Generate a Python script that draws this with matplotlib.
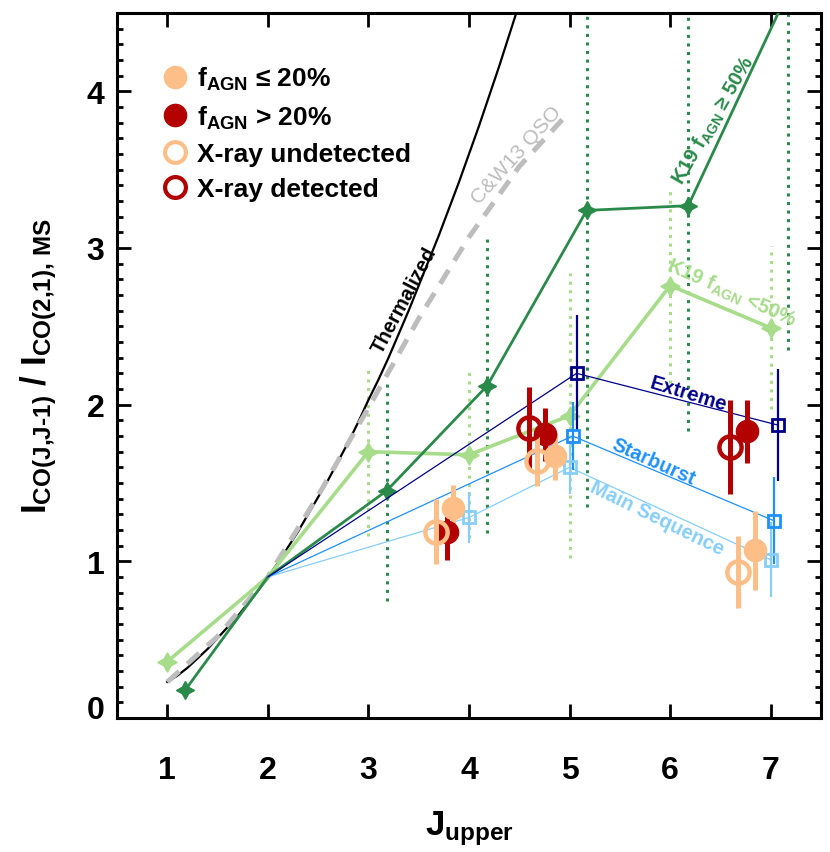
import matplotlib
matplotlib.use('Agg')
import matplotlib.pyplot as plt
from matplotlib.lines import Line2D
from matplotlib.ticker import MultipleLocator, FixedLocator

plt.rcParams['font.family'] = ['Liberation Sans', 'DejaVu Sans']
plt.rcParams['font.weight'] = 'bold'
plt.rcParams['axes.labelweight'] = 'bold'
plt.rcParams['mathtext.fontset'] = 'custom'
plt.rcParams['mathtext.rm'] = 'Liberation Sans:bold'
plt.rcParams['mathtext.bf'] = 'Liberation Sans:bold'
plt.rcParams['mathtext.it'] = 'Liberation Sans:bold'
plt.rcParams['mathtext.default'] = 'bf'

# ---------------- data ----------------
therm_j = [1.0, 1.1, 1.2, 1.3, 1.4, 1.5, 1.6, 1.7, 1.8, 1.9, 2.0, 2.1, 2.2, 2.3, 2.4, 2.5,
           2.6, 2.7, 2.8, 2.9, 3.0, 3.1, 3.2, 3.3, 3.4, 3.5, 3.6, 3.7, 3.8, 3.9, 4.0,
           4.1, 4.2, 4.3, 4.4, 4.5]
therm_r = [0.23, 0.27, 0.32, 0.38, 0.44, 0.51, 0.58, 0.65, 0.73, 0.81, 0.90, 0.99, 1.09,
           1.19, 1.30, 1.41, 1.52, 1.64, 1.76, 1.89, 2.03, 2.16, 2.30, 2.45, 2.60, 2.76,
           2.92, 3.08, 3.25, 3.42, 3.60, 3.78, 3.97, 4.16, 4.36, 4.56]

cw13_j = [1, 1.5, 2, 2.5, 3, 3.5, 4, 4.5, 5]
cw13_r = [0.23, 0.52, 0.90, 1.42, 1.98, 2.55, 3.07, 3.52, 3.87]

k19lo_j = [1, 2, 3, 4, 5, 6, 7]
k19lo_r = [0.36, 0.90, 1.70, 1.68, 1.93, 2.76, 2.49]
k19lo_e = [0.0, 0.0, 0.54, 0.53, 0.91, 0.62, 0.52]

k19hi_j = [1.18, 2.0, 3.18, 4.18, 5.17, 6.18, 7.17]
k19hi_r = [0.18, 0.90, 1.45, 2.12, 3.24, 3.27, 4.63]
k19hi_e = [0.0, 0.0, 0.70, 0.94, 1.89, 1.44, 2.28]

ms_j = [2, 4, 5, 7]
ms_r = [0.90, 1.28, 1.60, 1.01]
ms_e = [0.0, 0.16, 0.17, 0.24]

sb_j = [2, 5.03, 7.03]
sb_r = [0.90, 1.80, 1.26]
sb_e = [0.0, 0.22, 0.28]

ex_j = [2, 5.07, 7.07]
ex_r = [0.90, 2.20, 1.87]
ex_e = [0.0, 0.37, 0.36]

lofill_j = [3.84, 4.86, 6.84]
lofill_r = [1.34, 1.67, 1.07]
lofill_e = [0.15, 0.15, 0.25]

hifill_j = [3.78, 4.76, 6.76]
hifill_r = [1.19, 1.81, 1.83]
hifill_e = [0.18, 0.17, 0.20]

xund_j = [3.67, 4.68, 6.67]
xund_r = [1.19, 1.64, 0.93]
xund_e = [0.21, 0.16, 0.23]

xdet_j = [4.60, 6.60]
xdet_r = [1.85, 1.73]
xdet_e = [0.26, 0.30]

xticks = [1, 2, 3, 4, 5, 6, 7]
yticks = [0, 1, 2, 3, 4]

# ---------------- colours ----------------
C_DG = '#2a8a4a'
C_LG = '#a6dc8a'
C_NAVY = '#00008b'
C_SB = '#1e90ff'
C_MS = '#87cefa'
C_LO = '#fdbf87'
C_HI = '#b30000'
C_GRAY = '#bdbdbd'

fig = plt.figure(figsize=(8.3, 8.53), dpi=100)
ax = fig.add_axes([117 / 830, 1 - 719 / 853, 704 / 830, 705 / 853])

# thermalized and C&W13
ax.plot(therm_j, therm_r, color='black', lw=1.6, zorder=2)
ax.plot(cw13_j, cw13_r, color=C_GRAY, lw=3.6, dashes=(3.2, 2.2), zorder=2)

dot = (0, (1, 1.8))
# K19 light green
eb = ax.errorbar(k19lo_j[2:], k19lo_r[2:], yerr=k19lo_e[2:], fmt='none',
                 ecolor=C_LG, elinewidth=2.2, zorder=1)
eb[2][0].set_linestyle(dot)
ax.plot(k19lo_j, k19lo_r, color=C_LG, lw=2.6, marker=(4, 1, 0), ms=14,
        markevery=[0, 2, 3, 4, 5, 6], zorder=3)

# K19 dark green
eb = ax.errorbar(k19hi_j[2:], k19hi_r[2:], yerr=k19hi_e[2:], fmt='none',
                 ecolor=C_DG, elinewidth=2.2, zorder=1)
eb[2][0].set_linestyle(dot)
ax.plot(k19hi_j, k19hi_r, color=C_DG, lw=2.0, marker=(4, 1, 0), ms=13,
        markevery=[0, 2, 3, 4, 5, 6], zorder=3)

# Blue model lines
for jj, rr, ee, col in [(ms_j, ms_r, ms_e, C_MS), (sb_j, sb_r, sb_e, C_SB), (ex_j, ex_r, ex_e, C_NAVY)]:
    ax.plot(jj, rr, color=col, lw=0.9, zorder=3)
    ax.errorbar(jj[1:], rr[1:], yerr=ee[1:], fmt='s', ms=8, mfc='none', mec=col, mew=2,
                ecolor=col, elinewidth=1.6, capsize=0, zorder=4)

# data points
ax.errorbar(lofill_j, lofill_r, yerr=lofill_e, fmt='o', ms=16, color=C_LO,
            elinewidth=3.6, capsize=0, zorder=5)
ax.errorbar(hifill_j, hifill_r, yerr=hifill_e, fmt='o', ms=16, color=C_HI,
            elinewidth=3.6, capsize=0, zorder=5)
ax.errorbar(xund_j, xund_r, yerr=xund_e, fmt='o', ms=16, mfc='none', mec=C_LO, mew=3.2,
            ecolor=C_LO, elinewidth=3.6, capsize=0, zorder=6)
ax.errorbar(xdet_j, xdet_r, yerr=xdet_e, fmt='o', ms=16, mfc='none', mec=C_HI, mew=3.2,
            ecolor=C_HI, elinewidth=3.6, capsize=0, zorder=6)

# annotations
fs_a = 14.5
ax.text(3.36, 2.67, 'Thermalized', rotation=62, color='black', fontsize=fs_a,
        ha='center', va='center', rotation_mode='anchor')
ax.text(4.47, 3.60, 'C&W13 QSO', rotation=48, color=C_GRAY, fontsize=15,
        fontweight='normal', ha='center', va='center', rotation_mode='anchor')
ax.text(6.43, 3.82, r'K19 $f_{AGN}$ ≥ 50%', rotation=60, color=C_DG, fontsize=fs_a,
        ha='center', va='center', rotation_mode='anchor')
ax.text(6.61, 2.72, r'K19 $f_{AGN}$ <50%', rotation=-24, color=C_LG, fontsize=fs_a,
        ha='center', va='center', rotation_mode='anchor')
ax.text(6.18, 2.07, 'Extreme', rotation=-17, color=C_NAVY, fontsize=fs_a,
        ha='center', va='center', rotation_mode='anchor')
ax.text(5.83, 1.64, 'Starburst', rotation=-24, color=C_SB, fontsize=fs_a,
        ha='center', va='center', rotation_mode='anchor')
ax.text(5.87, 1.28, 'Main Sequence', rotation=-26, color=C_MS, fontsize=fs_a,
        ha='center', va='center', rotation_mode='anchor')

# legend
handles = [
    Line2D([], [], ls='none', marker='o', ms=16, color=C_LO),
    Line2D([], [], ls='none', marker='o', ms=16, color=C_HI),
    Line2D([], [], ls='none', marker='o', ms=15, mfc='white', mec=C_LO, mew=3),
    Line2D([], [], ls='none', marker='o', ms=15, mfc='white', mec=C_HI, mew=3),
]
labels = [r'$f_{AGN}$ ≤ 20%', r'$f_{AGN}$ > 20%', 'X-ray undetected', 'X-ray detected']
ax.legend(handles, labels, loc='upper left', bbox_to_anchor=(0.065, 0.926), frameon=False,
          handlelength=0.9, handletextpad=0.39, labelspacing=0.42, borderpad=0,
          borderaxespad=0, prop={'weight': 'bold', 'size': 19})

# axes
ax.set_xlim(0.5, 7.5)
ax.set_ylim(0, 4.5)
ax.xaxis.set_major_locator(FixedLocator(xticks))
ax.yaxis.set_major_locator(FixedLocator(yticks))
ax.yaxis.set_minor_locator(MultipleLocator(0.1))
ax.tick_params(which='both', direction='in', top=True, right=True, width=2, labelsize=23)
ax.tick_params(which='major', length=10)
ax.tick_params(which='minor', length=4.5)
ax.tick_params(axis='x', pad=27)
ax.tick_params(axis='y', pad=9)
for s in ax.spines.values():
    s.set_linewidth(2.2)

ax.set_xlabel(r'J$_{upper}$', fontsize=25, fontweight='bold')
ax.set_ylabel(r'I$_{\text{CO(J,J-1)}}$ / I$_{\text{CO(2,1), MS}}$', fontsize=25, fontweight='bold')
ax.xaxis.set_label_coords(0.5, -0.128)
ax.yaxis.set_label_coords(-0.082, 0.5)

fig.canvas.draw()
ax.yaxis.get_major_ticks()[0].label1.set_verticalalignment('baseline')

fig.savefig('out.png', dpi=100)
